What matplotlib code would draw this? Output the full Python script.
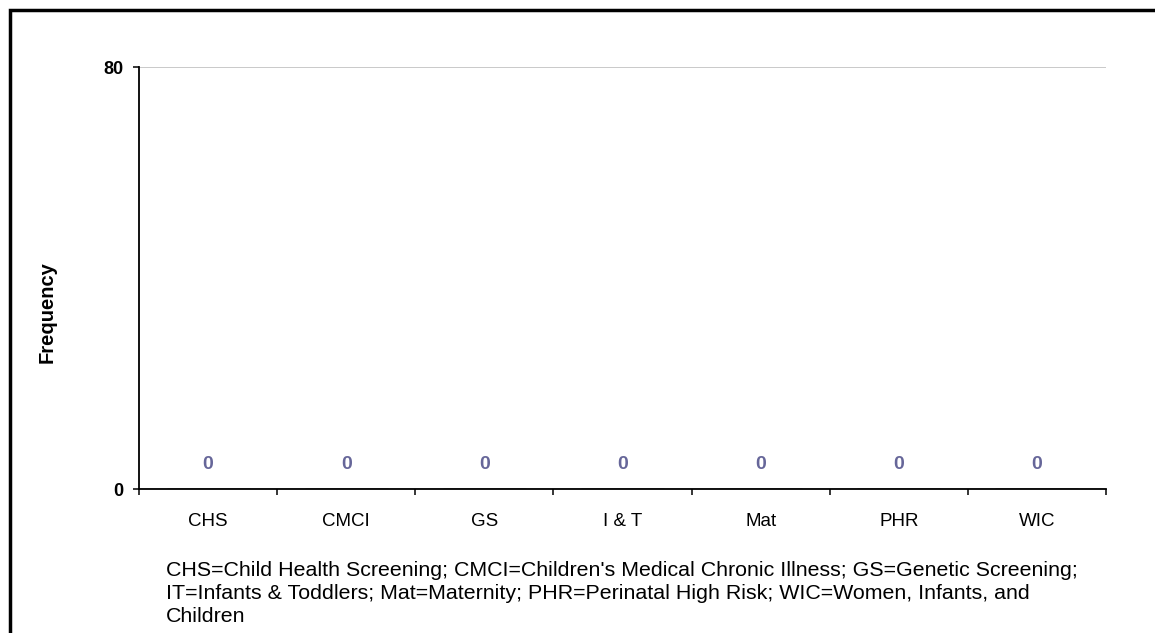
import matplotlib.pyplot as plt
from matplotlib.patches import Rectangle
import numpy as np

plt.rcParams['font.family'] = ['Liberation Sans', 'DejaVu Sans']

categories = ['CHS', 'CMCI', 'GS', 'I & T', 'Mat', 'PHR', 'WIC']
frequency = [0, 0, 0, 0, 0, 0, 0]
y_ticks = [0, 80]

footnote = ("CHS=Child Health Screening; CMCI=Children's Medical Chronic Illness; GS=Genetic Screening;\n"
            "IT=Infants & Toddlers; Mat=Maternity; PHR=Perinatal High Risk; WIC=Women, Infants, and\n"
            "Children")

W, H = 1155, 633
fig = plt.figure(figsize=(W / 100, H / 100), dpi=100)
ax = fig.add_axes([139 / W, 1 - 489 / H, (1106 - 139) / W, (489 - 67) / H])

x = np.arange(len(categories))
ax.bar(x, frequency, width=0.6, color='#9999FF', edgecolor='black')

# data labels above each (empty) bar
for xi, v in zip(x, frequency):
    ax.annotate(str(v), (xi, v), xytext=(0, 11.5), textcoords='offset points',
                ha='center', va='bottom', fontsize=14, fontweight='bold', color='#666699')

ax.set_xlim(-0.5, len(categories) - 0.5)
ax.set_ylim(0, 80)
ax.set_yticks(y_ticks)
ax.set_yticklabels([str(t) for t in y_ticks], fontsize=13, fontweight='bold')
ax.yaxis.grid(True, color='#C0C0C0', linewidth=1.2)
ax.set_axisbelow(True)

# category labels centred, ticks at the boundaries
ax.set_xticks(x)
ax.set_xticklabels(categories, fontsize=13.5)
ax.tick_params(axis='x', which='major', length=0, pad=17)
ax.set_xticks(np.arange(len(categories) + 1) - 0.5, minor=True)
ax.tick_params(axis='x', which='minor', length=4.3, width=1.1, direction='out')
ax.tick_params(axis='y', length=4.3, width=1.1, direction='out', pad=7)

ax.spines['top'].set_visible(False)
ax.spines['right'].set_visible(False)
ax.spines['left'].set_linewidth(1.3)
ax.spines['bottom'].set_linewidth(1.3)

fig.text(47 / W, 1 - 312 / H, 'Frequency', rotation=90, fontsize=14.5,
         fontweight='bold', ha='center', va='center')

fig.text(166 / W, 1 - 561 / H, footnote, fontsize=15.4, va='top', ha='left', linespacing=1.25)

# outer frame (cut by the image edges)
fig.patches.append(Rectangle((9.5 / W, -0.05), 1.1, 1 - 9.5 / H + 0.05,
                             transform=fig.transFigure, fill=False,
                             edgecolor='black', linewidth=2.5))

plt.savefig('out.png', dpi=100)
